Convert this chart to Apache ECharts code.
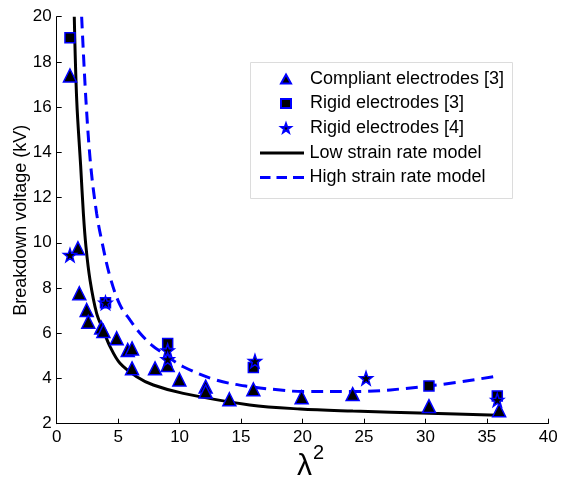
<!DOCTYPE html>
<html><head><meta charset="utf-8">
<script src="https://cdn.jsdelivr.net/npm/echarts@6/dist/echarts.min.js"></script>
<style>html,body{margin:0;padding:0;background:#fff}#c{width:561px;height:477px}</style>
</head><body><div id="c"></div>
<script>
var compliant3 = [[1.08,17.4],[1.73,9.76],[1.84,7.77],[2.44,7.03],[2.57,6.51],[3.62,6.25],[3.8,6.1],[4.88,5.78],[5.78,5.26],[6.13,5.33],[6.13,4.45],[8.0,4.45],[9.03,4.6],[9.98,3.96],[12.12,3.64],[12.12,3.42],[14.05,3.08],[16.0,3.52],[19.93,3.17],[24.08,3.31],[30.29,2.78],[36.0,2.6]];
var rigid3 = [[1.08,19.07],[3.97,7.35],[9.03,5.55],[16.0,4.48],[30.29,3.67],[35.85,3.23]];
var rigid4 = [[1.08,9.46],[3.97,7.35],[9.03,5.24],[9.03,4.85],[16.13,4.77],[25.17,4.01],[35.85,3.05]];
var lowModel = [[1.43,20],[1.63,16.3],[1.95,13.4],[2.17,11.3],[2.38,9.83],[2.71,8.36],[3.25,6.88],[3.79,6.14],[4.34,5.41],[5.15,4.67],[6.51,4.08],[7.86,3.71],[10.3,3.34],[15.7,2.83],[19.8,2.65],[24.1,2.56],[30.3,2.46],[35.9,2.37]];
var highModel = [[2.03,20],[2.38,16.3],[2.77,13.4],[3.25,11.3],[3.66,10.1],[4.34,8.5],[5.15,7.25],[5.96,6.59],[6.78,6.0],[7.73,5.48],[8.67,5.11],[10.3,4.52],[13.0,3.93],[15.7,3.64],[18.2,3.49],[20.0,3.42],[24.1,3.42],[30.3,3.67],[35.9,4.11]];
var names = ['Compliant electrodes [3]','Rigid electrodes [3]','Rigid electrodes [4]','Low strain rate model','High strain rate model'];
var xTicks = [0,5,10,15,20,25,30,35,40];
var yTicks = [2,4,6,8,10,12,14,16,18,20];

var font = '"Liberation Sans", Arial, sans-serif';
var star = 'path://M0,-10 L2.35,-3.24 L9.51,-3.09 L3.8,1.24 L5.88,8.09 L0,4 L-5.88,8.09 L-3.8,1.24 L-9.51,-3.09 L-2.35,-3.24 Z';
var solidIcon = 'path://M0,0h44v3h-44z';
var dashIcon = 'path://M0,0h10.5v3h-10.5z M16.5,0h10.5v3h-10.5z M33,0h11v3h-11z';
var chart = echarts.init(document.getElementById('c'));
chart.setOption({
  animation:false,
  textStyle:{fontFamily:font},
  grid:{left:56.7,right:12.7,top:16.7,bottom:53.3,containLabel:false,outerBoundsMode:'none'},
  graphic:[{type:'rect',left:250,top:62,z:0,shape:{width:262,height:136},
    style:{fill:'#fff',stroke:'#dcdcdc',lineWidth:1}}],
  legend:[{
    orient:'vertical', left:280, top:70, padding:0,
    itemWidth:10, itemHeight:9, itemGap:6.5,
    textStyle:{fontFamily:font,fontSize:18,color:'#000',padding:[0,0,0,14]},
    data:[{name:names[0],icon:'triangle'},{name:names[1],icon:'rect'},{name:names[2],icon:star}]
  },{
    orient:'vertical', left:260, top:144, padding:0,
    itemWidth:45, itemHeight:3, itemGap:6.5,
    textStyle:{fontFamily:font,fontSize:18,color:'#000',padding:[0,0,0,0]},
    data:[{name:names[3],icon:solidIcon,itemStyle:{color:'#000'}},{name:names[4],icon:dashIcon,itemStyle:{color:'#0000ff'}}]
  }],
  xAxis:{
    type:'value', min:xTicks[0], max:xTicks[xTicks.length-1], interval:xTicks[1]-xTicks[0],
    axisLine:{lineStyle:{color:'#000',width:1}},
    axisTick:{inside:true,length:5,lineStyle:{color:'#000'}},
    axisLabel:{fontSize:17,color:'#000',margin:5,fontFamily:font},
    splitLine:{show:false},
    name:'{l|λ}{s|2}', nameLocation:'middle', nameGap:20, nameMoveOverlap:false,
    nameTextStyle:{rich:{l:{fontSize:30,fontFamily:font,color:'#000',verticalAlign:'bottom',padding:[0,0,0,16]},s:{fontSize:20,fontFamily:font,color:'#000',verticalAlign:'top',padding:[0,0,18,1]}}}
  },
  yAxis:{
    type:'value', min:yTicks[0], max:yTicks[yTicks.length-1], interval:yTicks[1]-yTicks[0],
    axisLine:{show:true,lineStyle:{color:'#000',width:1}},
    axisTick:{show:true,inside:true,length:5,lineStyle:{color:'#000'}},
    axisLabel:{fontSize:17,color:'#000',margin:5,fontFamily:font},
    splitLine:{show:false},
    name:'Breakdown voltage (kV)', nameLocation:'middle', nameGap:27, nameMoveOverlap:false,
    nameTextStyle:{fontSize:18,color:'#000',fontFamily:font}
  },
  series:[
    {name:names[3],type:'line',data:lowModel,smooth:0.35,symbol:'none',z:2,
     lineStyle:{color:'#000',width:3},itemStyle:{color:'#000'}},
    {name:names[4],type:'line',data:highModel,smooth:0.35,symbol:'none',z:2,
     lineStyle:{color:'#0000ff',width:3,type:[12,7]},itemStyle:{color:'#0000ff'}},
    {name:names[0],type:'scatter',data:compliant3,symbol:'triangle',symbolSize:13,z:3,
     itemStyle:{color:'#000',borderColor:'#0000ff',borderWidth:1.5,opacity:1}},
    {name:names[1],type:'scatter',data:rigid3,symbol:'rect',symbolSize:10,z:3,
     itemStyle:{color:'#000',borderColor:'#0000ff',borderWidth:1.5,opacity:1}},
    {name:names[2],type:'scatter',data:rigid4,symbol:star,symbolSize:13,z:4,
     itemStyle:{color:'#000',borderColor:'#0000ff',borderWidth:1.5,opacity:1}}
  ]
});
</script></body></html>
